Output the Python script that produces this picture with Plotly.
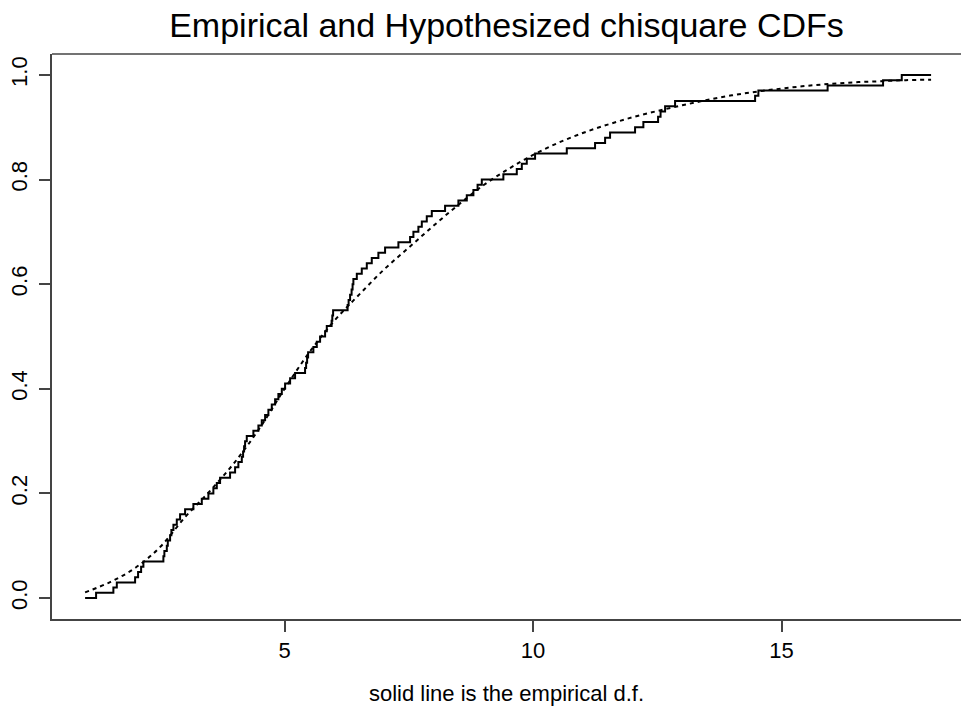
import plotly.graph_objects as go

# Empirical CDF: start/end x and jump positions with level after each jump
ecdf_start_x = 0.986
ecdf_end_x = 18.008
ecdf_jump_x = [1.207, 1.555, 1.624, 1.992, 2.052, 2.113, 2.159, 2.561, 2.581, 2.630,
               2.650, 2.696, 2.722, 2.763, 2.831, 2.897, 2.998, 3.165, 3.334, 3.467,
               3.567, 3.636, 3.702, 3.903, 4.004, 4.070, 4.139, 4.165, 4.185, 4.205,
               4.239, 4.372, 4.473, 4.541, 4.608, 4.674, 4.742, 4.809, 4.875, 4.944,
               5.010, 5.111, 5.211, 5.412, 5.433, 5.453, 5.473, 5.579, 5.648, 5.714,
               5.815, 5.849, 5.946, 5.960, 5.976, 6.268, 6.288, 6.318, 6.348, 6.368,
               6.384, 6.453, 6.553, 6.654, 6.754, 6.887, 7.022, 7.290, 7.525, 7.592,
               7.692, 7.761, 7.861, 7.962, 8.229, 8.497, 8.666, 8.799, 8.883, 8.968,
               9.402, 9.672, 9.773, 9.873, 10.040, 10.678, 11.247, 11.449, 11.549, 12.052,
               12.219, 12.515, 12.565, 12.656, 12.857, 14.467, 14.533, 15.926, 17.042, 17.418]
ecdf_levels = [0.01, 0.02, 0.03, 0.04, 0.05, 0.06, 0.07, 0.08, 0.09, 0.10,
               0.11, 0.12, 0.13, 0.14, 0.15, 0.16, 0.17, 0.18, 0.19, 0.20,
               0.21, 0.22, 0.23, 0.24, 0.25, 0.26, 0.27, 0.28, 0.29, 0.30,
               0.31, 0.32, 0.33, 0.34, 0.35, 0.36, 0.37, 0.38, 0.39, 0.40,
               0.41, 0.42, 0.43, 0.44, 0.45, 0.46, 0.47, 0.48, 0.49, 0.50,
               0.51, 0.52, 0.53, 0.54, 0.55, 0.56, 0.57, 0.58, 0.59, 0.60,
               0.61, 0.62, 0.63, 0.64, 0.65, 0.66, 0.67, 0.68, 0.69, 0.70,
               0.71, 0.72, 0.73, 0.74, 0.75, 0.76, 0.77, 0.78, 0.79, 0.80,
               0.81, 0.82, 0.83, 0.84, 0.85, 0.86, 0.87, 0.88, 0.89, 0.90,
               0.91, 0.92, 0.93, 0.94, 0.95, 0.96, 0.97, 0.98, 0.99, 1.00]

# Hypothesized chi-square CDF
hyp_x = [0.986, 1.5, 2.0, 2.5, 3.0, 3.5, 4.0, 4.5, 5.0, 5.5, 6.0, 6.5, 7.0, 7.5, 8.0,
         8.5, 9.0, 9.5, 10.0, 10.5, 11.0, 11.5, 12.0, 12.5, 13.0, 13.5, 14.0, 14.5,
         15.0, 15.5, 16.0, 16.5, 17.0, 17.5, 18.008]
hyp_y = [0.011, 0.031, 0.058, 0.098, 0.155, 0.205, 0.260, 0.325, 0.400, 0.470, 0.530,
         0.580, 0.628, 0.670, 0.712, 0.752, 0.789, 0.820, 0.847, 0.870, 0.889, 0.905,
         0.919, 0.931, 0.942, 0.952, 0.961, 0.968, 0.974, 0.979, 0.983, 0.986, 0.988,
         0.990, 0.991]

x_ticks = [5, 10, 15]
y_ticks = [0.0, 0.2, 0.4, 0.6, 0.8, 1.0]
y_ticktext = ["0.0", "0.2", "0.4", "0.6", "0.8", "1.0"]

FONT = "Liberation Sans, Arial, Helvetica, sans-serif"
AX = "#444444"

ex = [ecdf_start_x] + ecdf_jump_x + [ecdf_end_x]
ey = [0.0] + ecdf_levels + [1.0]

fig = go.Figure()
fig.add_trace(go.Scatter(x=ex, y=ey, mode="lines", line_shape="hv",
                         line=dict(color="black", width=2), showlegend=False,
                         hoverinfo="skip"))
fig.add_trace(go.Scatter(x=hyp_x, y=hyp_y, mode="lines", line_shape="spline",
                         line=dict(color="black", width=2, dash="4px,4px"),
                         showlegend=False, hoverinfo="skip"))

fig.update_layout(
    width=961, height=706,
    margin=dict(l=52, r=0, t=54, b=87, autoexpand=False),
    paper_bgcolor="white", plot_bgcolor="white",
    font=dict(family=FONT, color="black"),
    title=dict(text="Empirical and Hypothesized chisquare CDFs",
               x=0.5, xref="paper", xanchor="center",
               y=1 - 25 / 706, yref="container", yanchor="middle",
               automargin=False,
               font=dict(size=34, family=FONT, color="black")),
    xaxis=dict(range=[0.32, 18.61], tickvals=x_ticks, ticks="outside", ticklen=11,
               tickwidth=1.5, tickcolor=AX, showline=True, linecolor=AX, linewidth=1.5,
               showgrid=False, zeroline=False, tickfont=dict(size=22),
               automargin=False, ticklabelstandoff=0,
               title=dict(text="solid line is the empirical d.f.",
                          font=dict(size=22), standoff=24)),
    yaxis=dict(range=[-0.04, 1.04], tickvals=y_ticks, ticktext=y_ticktext,
               tickangle=-90, ticks="outside", ticklen=11, tickwidth=1.5,
               tickcolor=AX, showline=True, linecolor=AX, linewidth=1.5,
               showgrid=False, zeroline=False, tickfont=dict(size=22),
               automargin=False, ticklabelstandoff=3),
    shapes=[dict(type="line", xref="paper", yref="paper", x0=0, x1=1, y0=1, y1=1,
                 line=dict(color=AX, width=1.5))],
)

fig.write_html("out.html",
               config={"displayModeBar": False},
               post_script="document.body.style.margin='0';document.body.style.overflow='hidden';")
